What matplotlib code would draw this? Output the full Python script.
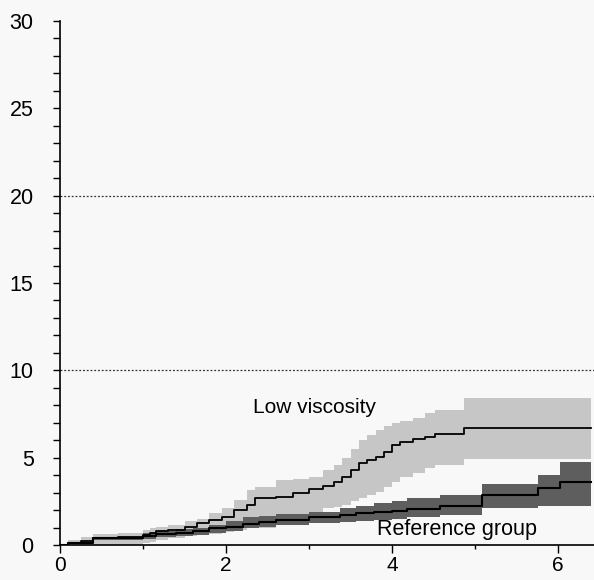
import matplotlib
matplotlib.use("Agg")
import matplotlib.pyplot as plt
from matplotlib.ticker import MultipleLocator

plt.rcParams['font.family'] = ['Liberation Sans', 'DejaVu Sans']

# low viscosity group: time, estimate and band
t_lv = [0, 0.1, 0.25, 0.4, 0.7, 1.0, 1.08, 1.16, 1.3, 1.5, 1.65, 1.8, 1.95, 2.1, 2.25, 2.35,
        2.6, 2.8, 3.0, 3.17, 3.3, 3.4, 3.5, 3.6, 3.7, 3.8, 3.9, 4.0, 4.1, 4.25, 4.4, 4.52, 4.86, 6.39]
mid_lv = [0, 0.1, 0.25, 0.4, 0.46, 0.57, 0.67, 0.82, 0.86, 1.05, 1.25, 1.43, 1.62, 2.0, 2.29, 2.67,
          2.75, 2.96, 3.2, 3.4, 3.6, 3.91, 4.29, 4.68, 4.87, 5.05, 5.34, 5.72, 5.91, 6.05, 6.2, 6.35, 6.71, 6.71]
hi_lv = [0.05, 0.3, 0.45, 0.63, 0.7, 0.86, 0.95, 1.05, 1.14, 1.35, 1.5, 1.81, 2.1, 2.6, 3.15, 3.35,
         3.72, 3.8, 3.91, 4.29, 4.6, 4.97, 5.5, 6.0, 6.3, 6.58, 6.8, 6.96, 7.1, 7.3, 7.53, 7.73, 8.4, 8.4]
lo_lv = [0, 0, 0, 0, 0, 0.1, 0.2, 0.3, 0.4, 0.5, 0.57, 0.65, 0.76, 0.85, 0.95, 1.0,
         1.15, 1.3, 1.6, 2.1, 2.2, 2.29, 2.5, 2.67, 2.85, 3.05, 3.3, 3.62, 3.9, 4.1, 4.4, 4.6, 4.9, 4.9]

# reference group
t_ref = [0, 0.1, 0.4, 1.0, 1.16, 1.4, 1.6, 1.8, 2.0, 2.2, 2.4, 2.6, 3.0, 3.37, 3.57, 3.78,
         4.0, 4.18, 4.58, 5.08, 5.75, 6.02, 6.39]
mid_ref = [0, 0.1, 0.38, 0.5, 0.63, 0.69, 0.82, 0.95, 1.05, 1.18, 1.3, 1.45, 1.62, 1.72, 1.85, 1.91,
           1.97, 2.04, 2.25, 2.86, 3.26, 3.6, 3.6]
hi_ref = [0.05, 0.15, 0.45, 0.7, 0.8, 0.9, 1.0, 1.15, 1.35, 1.6, 1.65, 1.75, 1.91, 2.1, 2.25, 2.38,
          2.5, 2.67, 2.86, 3.49, 4.0, 4.75, 4.75]
lo_ref = [0, 0.05, 0.3, 0.35, 0.45, 0.5, 0.6, 0.7, 0.8, 0.95, 1.05, 1.15, 1.24, 1.34, 1.4, 1.43,
          1.5, 1.62, 1.72, 2.1, 2.25, 2.25, 2.25]

ref_lines = [10, 20]

fig = plt.figure(figsize=(5.94, 5.80), dpi=100)
fig.patch.set_facecolor('#f8f8f8')
ax = fig.add_axes([0.101, 0.0603, 0.899, 0.9035])
ax.set_facecolor('#f8f8f8')

ax.fill_between(t_lv, lo_lv, hi_lv, step='post', facecolor='#c6c6c6', edgecolor='none', zorder=2)
ax.fill_between(t_ref, lo_ref, hi_ref, step='post', facecolor='#5e5e5e', edgecolor='none', zorder=3)
ax.step(t_lv, mid_lv, where='post', color='black', lw=1.3, zorder=4)
ax.step(t_ref, mid_ref, where='post', color='black', lw=1.5, zorder=4)

for y in ref_lines:
    ax.axhline(y, color='#333333', lw=0.9, ls=(0, (1.5, 1.5)), zorder=1)

ax.text(2.33, 7.56, 'Low viscosity', fontsize=15, zorder=5)
ax.text(3.82, 0.57, 'Reference group', fontsize=15.5, zorder=5)

ax.set_xlim(0, 6.43)
ax.set_ylim(0, 30)
ax.xaxis.set_major_locator(MultipleLocator(2))
ax.xaxis.set_minor_locator(MultipleLocator(1))
ax.yaxis.set_major_locator(MultipleLocator(5))
ax.yaxis.set_minor_locator(MultipleLocator(1))
ax.tick_params(axis='y', which='both', length=5, width=1, labelsize=15.5, pad=14)
ax.tick_params(axis='x', which='major', length=6, width=1, labelsize=15, pad=2)
ax.tick_params(axis='x', which='minor', length=3, width=1)
for s in ['top', 'right']:
    ax.spines[s].set_visible(False)
ax.spines['left'].set_linewidth(1.2)
ax.spines['bottom'].set_linewidth(1.2)

fig.savefig('out.png', dpi=100, facecolor=fig.get_facecolor())
